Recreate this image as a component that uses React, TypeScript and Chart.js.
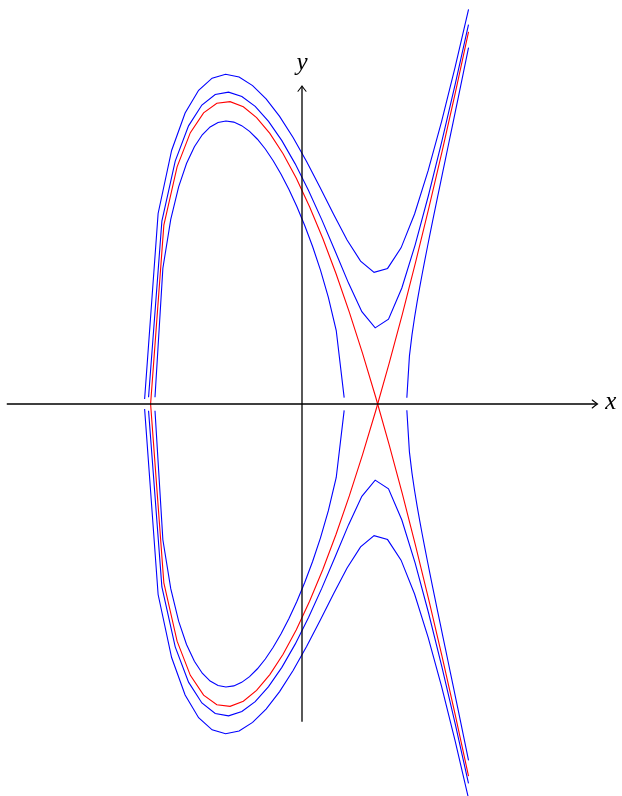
import { useEffect, useRef } from "react";
import { Chart, registerables } from "chart.js";

Chart.register(...registerables);

// Curve samples (upper halves, y >= 0 part; lower halves are the mirror images)
// Outer blue curve
const blueOuterX = [-2.079, -1.9007, -1.7224, -1.5441, -1.3658, -1.1875, -1.0092, -0.8309, -0.6526, -0.4743, -0.296, -0.1177, 0.0606, 0.2389, 0.4172, 0.5955, 0.7738, 0.9521, 1.1304, 1.3087, 1.487, 1.6653, 1.8436, 2.0219, 2.2002];
const blueOuterY = [0.033, 1.2592, 1.6755, 1.9237, 2.0736, 2.1536, 2.1794, 2.1608, 2.1047, 2.0165, 1.9006, 1.7611, 1.6026, 1.4307, 1.2534, 1.0838, 0.9444, 0.8699, 0.8962, 1.0321, 1.2558, 1.5402, 1.8669, 2.2249, 2.6077];

// Middle blue curve
const blueMidX = [-2.027, -1.8509, -1.6748, -1.4987, -1.3226, -1.1465, -0.9704, -0.7943, -0.6182, -0.4421, -0.266, -0.0899, 0.0862, 0.2623, 0.4384, 0.6145, 0.7906, 0.9667, 1.1428, 1.3189, 1.495, 1.6711, 1.8472, 2.0233, 2.1994];
const blueMidY = [0.045, 1.2091, 1.6052, 1.8385, 1.9759, 2.0451, 2.0609, 2.0327, 1.9668, 1.8681, 1.7405, 1.5871, 1.4114, 1.217, 1.0095, 0.7991, 0.6102, 0.5033, 0.5604, 0.7665, 1.0518, 1.3796, 1.7353, 2.1126, 2.5082];

// Red nodal curve (one smooth branch; the other branch is its mirror)
const redX = [-2, -1.825, -1.65, -1.475, -1.3, -1.125, -0.95, -0.775, -0.6, -0.425, -0.25, -0.075, 0.1, 0.275, 0.45, 0.625, 0.8, 0.975, 1.15, 1.325, 1.5, 1.675, 1.85, 2.025, 2.2];
const redY = [0, 1.1818, 1.5678, 1.7933, 1.9243, 1.9877, 1.9982, 1.9646, 1.8931, 1.7884, 1.6536, 1.4915, 1.3042, 1.0935, 0.8609, 0.6076, 0.3347, 0.0431, -0.2662, -0.5926, -0.9354, -1.294, -1.6678, -2.0564, -2.4593];

// Inner blue curve: closed oval part
const blueOvalX = [-1.942, -1.8379, -1.7338, -1.6297, -1.5256, -1.4215, -1.3174, -1.2133, -1.1092, -1.0051, -0.901, -0.7969, -0.6928, -0.5887, -0.4846, -0.3805, -0.2764, -0.1723, -0.0682, 0.0359, 0.14, 0.2441, 0.3482, 0.4523, 0.557];
const blueOvalY = [0.045, 0.8975, 1.2205, 1.4355, 1.5894, 1.7006, 1.7793, 1.8313, 1.8609, 1.8708, 1.8632, 1.8397, 1.8016, 1.7499, 1.6852, 1.6082, 1.5192, 1.4184, 1.3055, 1.18, 1.0406, 0.8844, 0.7054, 0.4854, 0.0425];

// Inner blue curve: unbounded branch
const blueBranchX = [1.385, 1.419, 1.4529, 1.4869, 1.5208, 1.5548, 1.5888, 1.6227, 1.6567, 1.6906, 1.7246, 1.7585, 1.7925, 1.8265, 1.8604, 1.8944, 1.9283, 1.9623, 1.9963, 2.0302, 2.0642, 2.0981, 2.1321, 2.166, 2.2];
const blueBranchY = [0.0417, 0.3164, 0.4564, 0.5715, 0.6746, 0.7708, 0.8625, 0.9512, 1.0377, 1.1226, 1.2064, 1.2894, 1.3718, 1.4538, 1.5356, 1.6172, 1.6986, 1.7802, 1.8618, 1.9436, 2.0255, 2.1076, 2.1899, 2.2725, 2.3554];

// Axes extents and labels
const xAxisRange = [-3.9, 3.9];
const yAxisRange = [-2.1, 2.1];
const xAxisLabel = "x";
const yAxisLabel = "y";

const BLUE = "#0000ff";
const RED = "#ff0000";

function pts(xs: number[], ys: number[], sign: number) {
  return xs.map((x, i) => ({ x, y: sign * ys[i] }));
}

function ds(xs: number[], ys: number[], sign: number, color: string) {
  return {
    data: pts(xs, ys, sign),
    showLine: true,
    borderColor: color,
    backgroundColor: color,
    borderWidth: 1.1,
    pointRadius: 0,
    pointHoverRadius: 0,
    tension: 0,
    fill: false,
  };
}

function drawArrowHead(ctx: CanvasRenderingContext2D, x: number, y: number, dir: "right" | "up") {
  ctx.save();
  ctx.translate(x, y);
  if (dir === "up") ctx.rotate(-Math.PI / 2);
  ctx.beginPath();
  ctx.moveTo(-5, -4);
  ctx.quadraticCurveTo(-1.5, -1.2, 0.3, 0);
  ctx.quadraticCurveTo(-1.5, 1.2, -5, 4);
  ctx.lineWidth = 1.1;
  ctx.lineCap = "round";
  ctx.strokeStyle = "#000";
  ctx.stroke();
  ctx.restore();
}

const axesPlugin = {
  id: "texAxes",
  afterDatasetsDraw(chart: any) {
    const ctx: CanvasRenderingContext2D = chart.ctx;
    const xs = chart.scales.x;
    const ys = chart.scales.y;
    const x0 = xs.getPixelForValue(0);
    const y0 = ys.getPixelForValue(0);
    const xl = xs.getPixelForValue(xAxisRange[0]);
    const xr = xs.getPixelForValue(xAxisRange[1]);
    const yb = ys.getPixelForValue(yAxisRange[0]);
    const yt = ys.getPixelForValue(yAxisRange[1]);
    ctx.save();
    ctx.strokeStyle = "#000";
    ctx.lineWidth = 1.3;
    ctx.beginPath();
    ctx.moveTo(xl, y0);
    ctx.lineTo(xr - 0.5, y0);
    ctx.moveTo(x0, yb);
    ctx.lineTo(x0, yt + 0.5);
    ctx.stroke();
    drawArrowHead(ctx, xr, y0, "right");
    drawArrowHead(ctx, x0, yt, "up");
    ctx.fillStyle = "#000";
    ctx.font = "italic 25px 'Liberation Serif', 'DejaVu Serif', serif";
    ctx.textBaseline = "middle";
    ctx.textAlign = "left";
    ctx.fillText(xAxisLabel, xr + 8, y0 - 2);
    ctx.textAlign = "center";
    ctx.textBaseline = "alphabetic";
    ctx.fillText(yAxisLabel, x0, yt - 16);
    ctx.restore();
  },
};

export default function App() {
  const ref = useRef<HTMLCanvasElement | null>(null);
  useEffect(() => {
    if (!ref.current) return;
    const chart = new Chart(ref.current, {
      type: "scatter",
      data: {
        datasets: [
          ds(blueOuterX, blueOuterY, 1, BLUE),
          ds(blueOuterX, blueOuterY, -1, BLUE),
          ds(blueMidX, blueMidY, 1, BLUE),
          ds(blueMidX, blueMidY, -1, BLUE),
          ds(blueOvalX, blueOvalY, 1, BLUE),
          ds(blueOvalX, blueOvalY, -1, BLUE),
          ds(blueBranchX, blueBranchY, 1, BLUE),
          ds(blueBranchX, blueBranchY, -1, BLUE),
          ds(redX, redY, 1, RED),
          ds(redX, redY, -1, RED),
        ] as any,
      },
      options: {
        animation: false,
        responsive: false,
        maintainAspectRatio: false,
        layout: { padding: 0 },
        plugins: {
          legend: { display: false },
          tooltip: { enabled: false },
          title: { display: false },
        },
        events: [],
        scales: {
          x: { type: "linear", display: false, min: -302 / 75.7, max: 320 / 75.7 },
          y: { type: "linear", display: false, min: -392 / 151.3, max: 404 / 151.3 },
        },
      },
      plugins: [axesPlugin],
    });
    return () => chart.destroy();
  }, []);
  return (
    <div style={{ position: "fixed", left: 0, top: 0, width: 622, height: 796, background: "#fff" }}>
      <canvas ref={ref} width={622} height={796} style={{ display: "block", width: 622, height: 796 }} />
    </div>
  );
}
